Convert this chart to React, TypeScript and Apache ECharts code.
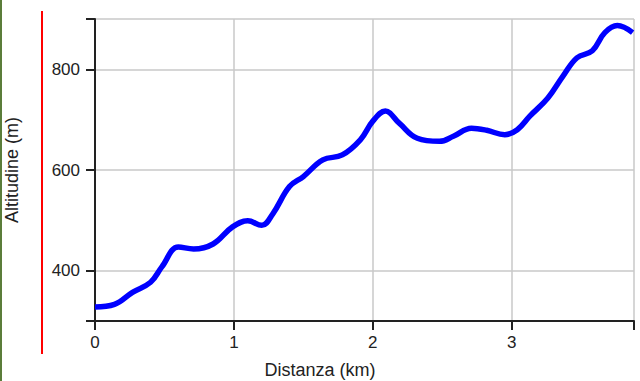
import React, { useEffect, useRef } from "react";
import * as echarts from "echarts";

const distanceKm = [0.0, 0.14, 0.27, 0.4, 0.48, 0.6, 0.71, 0.85, 0.99, 1.1, 1.2, 1.28, 1.4, 1.5, 1.64, 1.78, 1.91, 2.0, 2.09, 2.19, 2.32, 2.48, 2.58, 2.71, 2.82, 2.95, 3.04, 3.13, 3.26, 3.37, 3.47, 3.58, 3.67, 3.76, 3.87];
const altitudeM = [328, 333, 357, 377, 407, 447, 443, 453, 487, 499, 490, 513, 567, 587, 620, 630, 660, 697, 717, 693, 663, 657, 667, 683, 679, 670, 680, 707, 743, 787, 823, 837, 873, 887, 873];
const xTicks = [0, 1, 2, 3, 3.88];
const xLabels = [0, 1, 2, 3];
const yTicks = [300, 400, 600, 800, 900];
const yLabels = [400, 600, 800];
const xName = "Distanza (km)";
const yName = "Altitudine (m)";

export default function App() {
  const ref = useRef<HTMLDivElement>(null);
  useEffect(() => {
    if (!ref.current) return;
    const chart = echarts.init(ref.current, null, { renderer: "svg" });
    const font = "Liberation Sans, Arial, sans-serif";
    chart.setOption({
      animation: false,
      grid: { left: 95, right: 6, top: 19, bottom: 60, containLabel: false },
      xAxis: {
        type: "value",
        min: 0,
        max: 3.88,
        axisLine: { show: true, lineStyle: { color: "#222", width: 2 } },
        axisTick: { show: true, length: 9, customValues: xTicks, lineStyle: { color: "#222", width: 2 } },
        axisLabel: { customValues: xLabels, color: "#222", fontSize: 17, fontFamily: font, margin: 13 },
        splitLine: { show: true, lineStyle: { color: "#c8c8c8", width: 1.5 } },
      },
      yAxis: {
        type: "value",
        min: 300,
        max: 900,
        axisLine: { show: true, lineStyle: { color: "#222", width: 2 } },
        axisTick: { show: true, length: 9, customValues: yTicks, lineStyle: { color: "#222", width: 2 } },
        axisLabel: { customValues: yLabels, color: "#222", fontSize: 17, fontFamily: font, margin: 15 },
        splitLine: { show: true, lineStyle: { color: "#c8c8c8", width: 1.5 } },
      },
      series: [
        {
          type: "line",
          data: distanceKm.map((d, i) => [d, altitudeM[i]]),
          smooth: 0.4,
          showSymbol: false,
          lineStyle: { color: "#0000ff", width: 5.5 },
          z: 5,
        },
      ],
      graphic: [
        { type: "rect", left: 0, top: 0, shape: { x: 0, y: 0, width: 2, height: 381 }, style: { fill: "#5b7d3a" } },
        { type: "line", shape: { x1: 42, y1: 11, x2: 42, y2: 354 }, style: { stroke: "#ff0000", lineWidth: 2 } },
        {
          type: "text",
          x: 320,
          y: 370,
          style: { text: xName, fill: "#222", font: "18px " + font, textAlign: "center", textVerticalAlign: "middle" },
        },
        {
          type: "text",
          x: 12,
          y: 170,
          rotation: Math.PI / 2,
          style: { text: yName, fill: "#222", font: "18px " + font, textAlign: "center", textVerticalAlign: "middle" },
        },
      ],
    });
    return () => chart.dispose();
  }, []);
  return <div ref={ref} style={{ position: "fixed", left: 0, top: 0, width: 640, height: 381, background: "#fff" }} />;
}
